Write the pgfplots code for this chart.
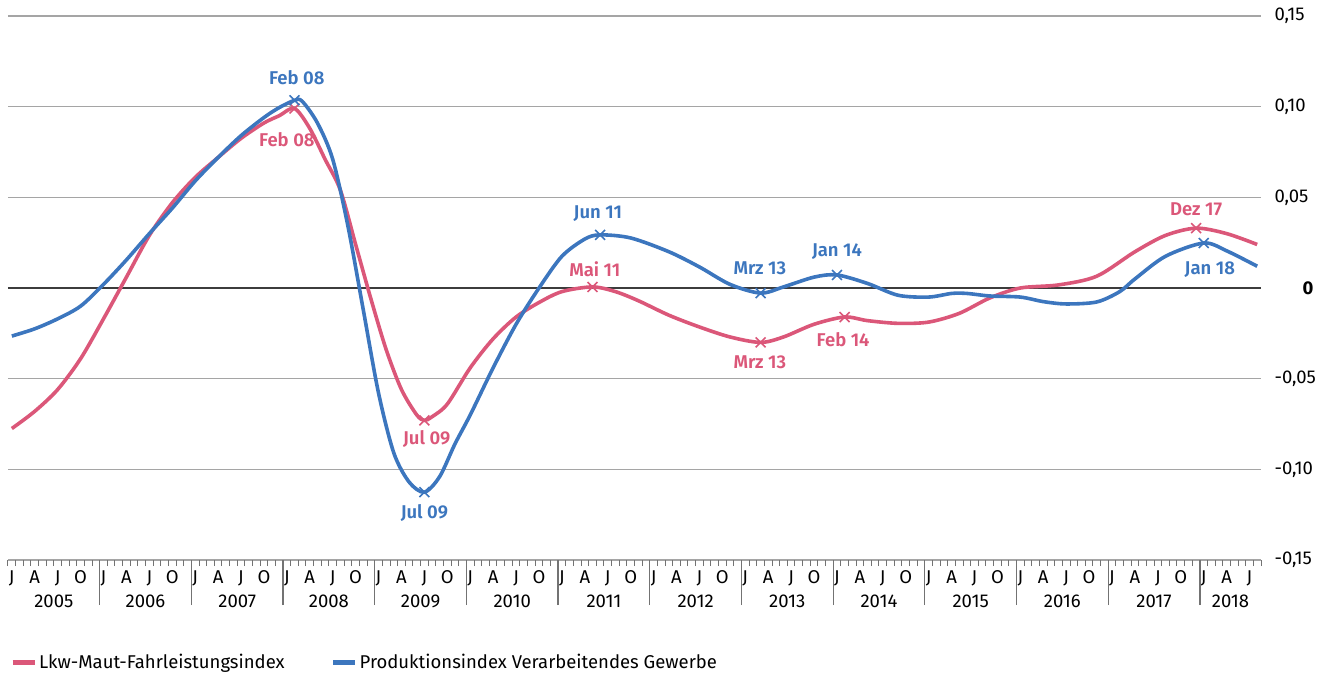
\documentclass[border=0pt]{standalone}
\usepackage{pgfplots}
\usepackage{pgfplotstable}
\pgfplotsset{compat=1.18}
\usepackage{fontspec}
\setmainfont{Fira Sans}
\newfontfamily\semib{Fira Sans SemiBold}
\definecolor{cpink}{RGB}{219,87,121}
\definecolor{cblue}{RGB}{60,118,190}
\definecolor{cgrid}{RGB}{165,165,165}
\definecolor{cticks}{RGB}{115,115,115}
\definecolor{czero}{RGB}{60,60,60}
\newcommand\fs{\fontsize{18.5}{22}\selectfont}

\pgfplotstableread{
m v
0 -0.0775
3 -0.068
6 -0.056
9 -0.039
12 -0.017
15 0.006
18 0.029
21 0.047
24 0.061
27 0.072
30 0.0825
33 0.091
35 0.095
37 0.099
39 0.088
41 0.071
43 0.054
45 0.024
47 -0.006
49 -0.034
51 -0.056
53 -0.070
54 -0.073
55 -0.071
57 -0.064
60 -0.044
63 -0.028
66 -0.016
69 -0.008
72 -0.002
76 0.0006
79 -0.002
82 -0.007
86 -0.015
90 -0.0215
94 -0.027
98 -0.030
101 -0.027
105 -0.020
109 -0.016
112 -0.018
116 -0.0195
120 -0.0188
124 -0.014
128 -0.0055
132 0.000
137 0.0017
142 0.0065
147 0.020
151 0.029
155 0.033
159 0.030
163 0.024
}\pinkdata

\pgfplotstableread{
m v
0 -0.0265
3 -0.0225
6 -0.017
9 -0.010
12 0.002
15 0.0155
18 0.030
21 0.044
24 0.059
27 0.072
30 0.084
33 0.094
35 0.0995
37 0.1035
38 0.103
40 0.091
42 0.071
44 0.034
46 -0.012
48 -0.058
50 -0.091
52 -0.107
54 -0.1126
56 -0.104
58 -0.086
60 -0.070
63 -0.044
66 -0.020
69 0.000
72 0.0175
75 0.027
77 0.0293
81 0.0276
86 0.020
90 0.0116
94 0.002
98 -0.0028
101 0.0006
105 0.006
108 0.0072
112 0.0025
116 -0.004
120 -0.005
123 -0.003
125 -0.003
128 -0.0044
132 -0.005
135 -0.0075
138 -0.0088
142 -0.0077
145 -0.002
147 0.005
151 0.0175
156 0.0248
159 0.0205
163 0.012
}\bluedata

\begin{document}
\begin{tikzpicture}
\path[use as bounding box] (-8pt,-115pt) rectangle (1313pt,560pt);
\begin{axis}[
  at={(0pt,0pt)}, anchor=south west,
  scale only axis, width=1253pt, height=544pt,
  xmin=0, xmax=164, ymin=-0.15, ymax=0.15,
  clip=false,
  axis line style={draw=none},
  font=\fs,
  xtick pos=bottom,
  xtick={12,24,...,156}, xticklabels={},
  minor xtick={0,1,...,164},
  tick align=outside,
  major tick length=45pt, minor tick length=6pt,
  xtick style={cticks, line width=1.3pt},
  minor x tick style={cticks, line width=1pt},
  ytick={-0.15,-0.1,-0.05,0.05,0.1,0.15},
  yticklabels={{-0,15},{-0,10},{-0,05},{0,05},{0,10},{0,15}},
  ytick style={draw=none},
  yticklabel pos=right,
  yticklabel style={anchor=west, xshift=-35pt},
  ymajorgrids, grid style={cgrid, line width=1.5pt},
  extra y ticks={0}, extra y tick labels={\textbf{0}},
  extra y tick style={grid style={czero, line width=2pt}, yticklabel style={anchor=east, xshift=46pt}},
  legend style={at={(axis description cs:0.0015,-0.1875)}, anchor=west, draw=none, fill=none,
    font=\fs, legend columns=2, inner xsep=0pt,
    /tikz/every even column/.append style={column sep=44pt}},
  legend cell align=left,
  legend image code/.code={\draw[#1, line width=5pt] (0pt,0pt) -- (22pt,0pt);},
]
\addplot[cpink, line width=3.6pt, smooth] table[x expr=\thisrow{m}+0.5, y=v] {\pinkdata};
\addlegendentry{Lkw-Maut-Fahrleistungsindex}
\addplot[cblue, line width=3.6pt, smooth] table[x expr=\thisrow{m}+0.5, y=v] {\bluedata};
\addlegendentry{Produktionsindex Verarbeitendes Gewerbe}

\addplot[forget plot, only marks, mark=x, mark size=7pt, cpink, mark options={line width=1.6pt}] coordinates {
(37.5,0.099) (54.5,-0.073) (76.5,0.0006) (98.5,-0.030) (109.5,-0.016) (155.5,0.033)};
\addplot[forget plot, only marks, mark=x, mark size=7pt, cblue, mark options={line width=1.6pt}] coordinates {
(37.5,0.1035) (54.5,-0.1126) (77.5,0.0293) (98.5,-0.0028) (108.5,0.0072) (156.5,0.0248)};

\begin{scope}[every node/.style={font=\semib\fs}]
\node[cblue] at (axis cs:37.8,0.1159) {Feb 08};
\node[cpink] at (axis cs:36.5,0.0817) {Feb 08};
\node[cblue] at (axis cs:54.5,-0.1242) {Jul 09};
\node[cpink] at (axis cs:54.8,-0.0834) {Jul 09};
\node[cblue] at (axis cs:77.2,0.0409) {Jun 11};
\node[cpink] at (axis cs:76.8,0.0105) {Mai 11};
\node[cblue] at (axis cs:98.4,0.011) {Mrz 13};
\node[cpink] at (axis cs:98.4,-0.0408) {Mrz 13};
\node[cblue] at (axis cs:108.5,0.0199) {Jan 14};
\node[cpink] at (axis cs:109.3,-0.0287) {Feb 14};
\node[cpink] at (axis cs:155.5,0.0436) {Dez 17};
\node[cblue] at (axis cs:157.3,0.0099) {Jan 18};
\end{scope}

\begin{scope}[every node/.style={font=\fs, anchor=base}]
\pgfplotsinvokeforeach{0,...,12}{
  \node at (axis cs:{12*#1+0.5},-0.15) [yshift=-23pt] {J};
  \node at (axis cs:{12*#1+3.5},-0.15) [yshift=-23pt] {A};
  \node at (axis cs:{12*#1+6.5},-0.15) [yshift=-23pt] {J};
  \node at (axis cs:{12*#1+9.5},-0.15) [yshift=-23pt] {O};
  \node at (axis cs:{12*#1+6},-0.15) [yshift=-47pt] {\the\numexpr2005+#1\relax};
}
\node at (axis cs:156.5,-0.15) [yshift=-23pt] {J};
\node at (axis cs:159.5,-0.15) [yshift=-23pt] {A};
\node at (axis cs:162.5,-0.15) [yshift=-23pt] {J};
\node at (axis cs:160,-0.15) [yshift=-47pt] {2018};
\end{scope}
\end{axis}
\end{tikzpicture}
\end{document}
